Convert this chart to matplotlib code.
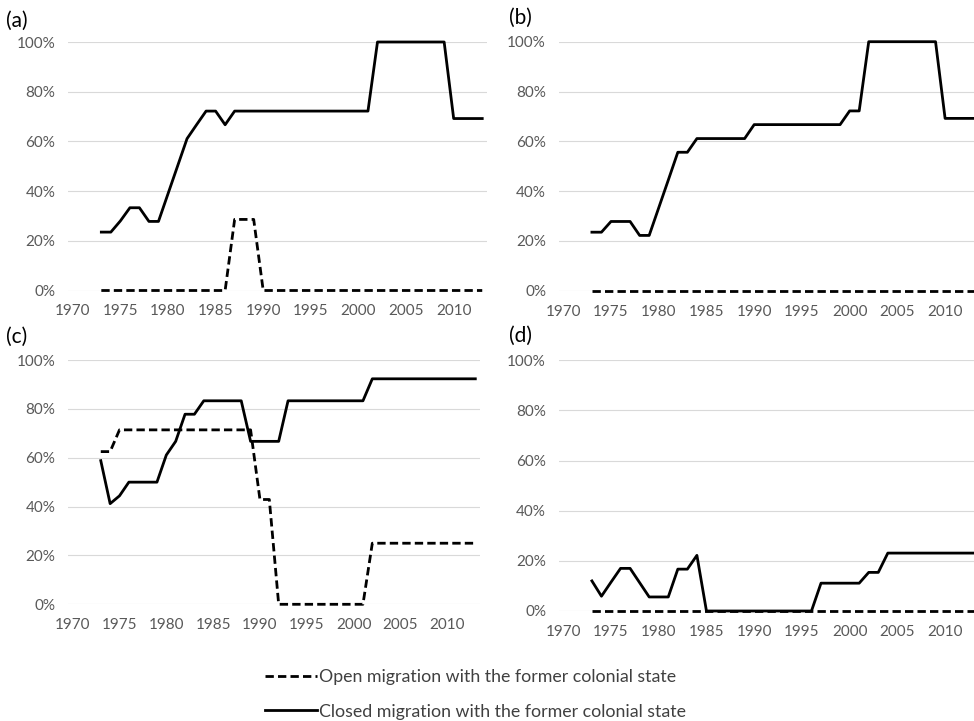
import matplotlib
matplotlib.use("Agg")
import matplotlib.pyplot as plt
from matplotlib.lines import Line2D
from matplotlib.ticker import PercentFormatter

plt.rcParams['font.family'] = ['Lato', 'DejaVu Sans']

years = list(range(1973, 2014))
tick_years = [1970, 1975, 1980, 1985, 1990, 1995, 2000, 2005, 2010]
y_ticks = [0, 20, 40, 60, 80, 100]

a_open = [0]*14 + [28.6]*3 + [0]*24
a_closed = [23.5, 23.5, 28.0, 33.3, 33.3, 27.8, 27.8, 38.9, 50.0, 61.1, 66.7, 72.2, 72.2, 66.7, 72.2] \
    + [72.2]*14 + [100]*8 + [69.2]*4

b_open = [0]*41
b_closed = [23.5, 23.5, 27.8, 27.8, 27.8, 22.2, 22.2, 33.3, 44.4, 55.6, 55.6] \
    + [61.1]*6 + [66.7]*10 + [72.2]*2 + [100]*8 + [69.2]*4

c_open = [62.5, 62.5] + [71.4]*15 + [42.9]*2 + [0]*10 + [25.0]*12
c_closed = [58.8, 41.2, 44.4, 50.0, 50.0, 50.0, 50.0, 61.1, 66.7, 77.8, 77.8] \
    + [83.3]*5 + [66.7]*4 + [83.3]*9 + [92.3]*12

d_open = [0]*41
d_closed = [12.0, 5.9, 11.5, 17.0, 17.0, 11.3, 5.6, 5.6, 5.6, 16.7, 16.7, 22.2] \
    + [0]*12 + [11.1]*5 + [15.4]*2 + [23.1]*10

panel_labels = ['(a)', '(b)', '(c)', '(d)']
legend_labels = ['Open migration with the former colonial state',
                 'Closed migration with the former colonial state']

W, H = 974, 721
fig = plt.figure(figsize=(W/100, H/100), dpi=100)

def px_axes(left, top, right, bottom):
    return fig.add_axes([left/W, 1-bottom/H, (right-left)/W, (bottom-top)/H])

# (left, top(100%), right, bottom(0%)) in pixels
boxes = [(68, 42, 487, 290.5), (558.5, 41.7, 978.5, 290.7),
         (68, 360, 480, 604.3), (558.5, 360.3, 978.5, 611)]
data = [(a_open, a_closed), (b_open, b_closed), (c_open, c_closed), (d_open, d_closed)]
label_pos = [(6, 21), (509, 18), (6, 337), (509, 336)]

for box, (op, cl), lab, lp in zip(boxes, data, panel_labels, label_pos):
    ax = px_axes(*box)
    ax.set_xlim(1969.5, 2013.5)
    ax.set_ylim(0, 100)
    ax.set_yticks(y_ticks)
    ax.set_xticks(tick_years)
    ax.yaxis.set_major_formatter(PercentFormatter(decimals=0))
    ax.grid(axis='y', color='#d9d9d9', linewidth=0.8)
    ax.set_axisbelow(True)
    for s in ax.spines.values():
        s.set_visible(False)
    ax.tick_params(length=0, labelsize=11, labelcolor='#595959')
    ax.tick_params(axis='y', pad=9)
    ax.tick_params(axis='x', pad=10)
    ax.plot(years, op, color='black', linewidth=2, linestyle=(0, (3, 1.5)),
            clip_on=False, zorder=3)
    ax.plot(years, cl, color='black', linewidth=2, solid_joinstyle='round',
            clip_on=False, zorder=4)
    fig.text(lp[0]/W, 1-lp[1]/H, lab, fontsize=15, ha='left', va='center', color='black')

handles = [Line2D([], [], color='black', linewidth=2, linestyle=(0, (3, 1.5))),
           Line2D([], [], color='black', linewidth=2)]
fig.legend(handles, legend_labels, loc='upper left',
           bbox_to_anchor=(265/W, 1-669/H), frameon=False, fontsize=12.8,
           borderpad=0, borderaxespad=0,
           handlelength=2.9, handletextpad=0.12, labelspacing=1.05,
           labelcolor='#404040')

fig.savefig('out.png', dpi=100)
